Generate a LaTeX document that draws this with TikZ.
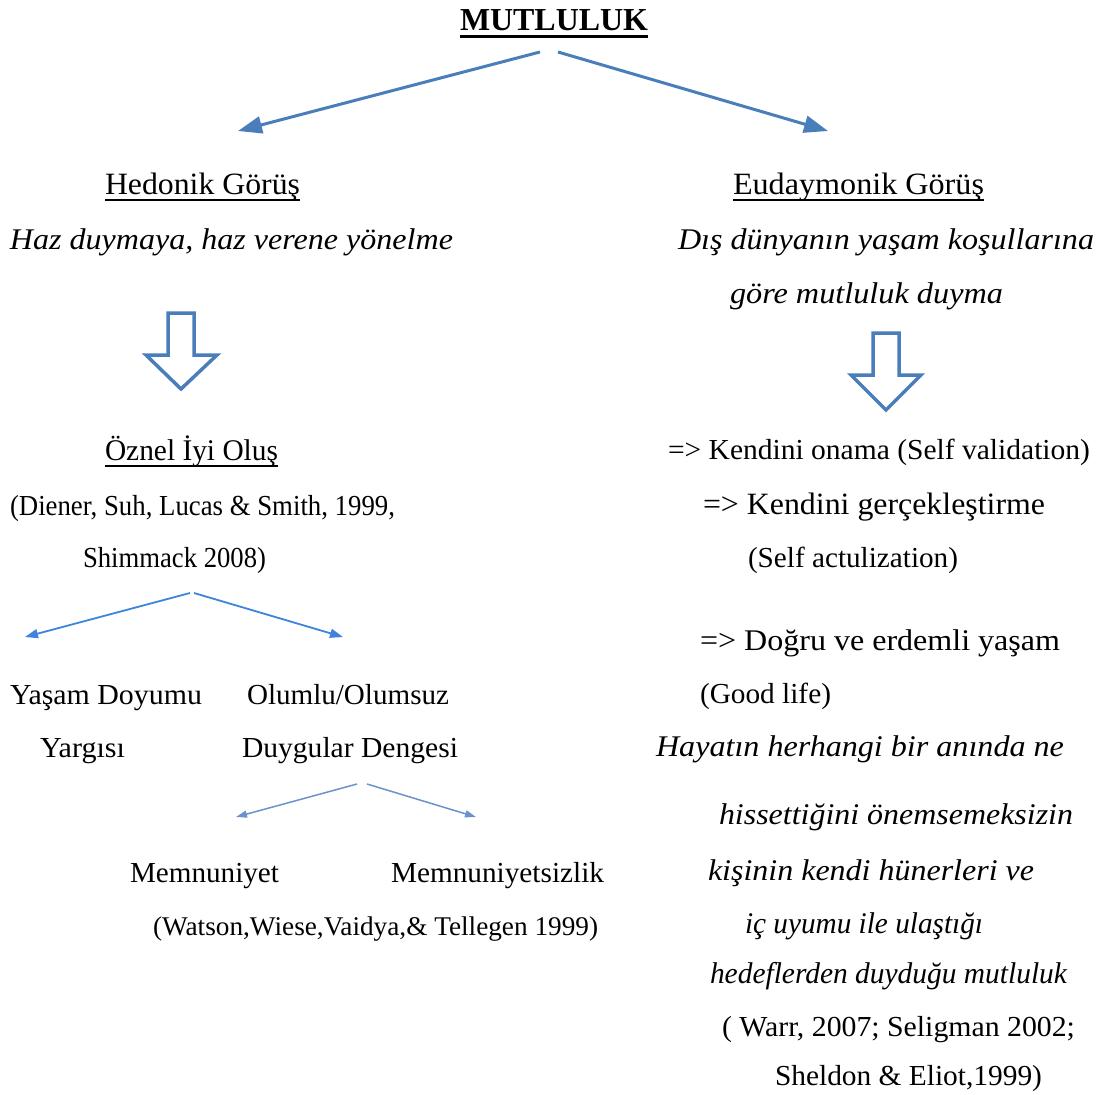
\documentclass[tikz,border=0pt]{standalone}
\usepackage{fontspec}
\setmainfont{Liberation Serif}
\usepackage{graphicx}
\usetikzlibrary{arrows.meta}
\definecolor{bigblue}{HTML}{4A7EBB}
\definecolor{midblue}{HTML}{3F84DC}
\definecolor{lowblue}{HTML}{6A92CC}
% set a line at a given size and stretch it to a given width
\newcommand\linefit[3]{\resizebox{#1pt}{\height}{\fontsize{#2}{#2}\selectfont #3}}
\tikzset{
  txt/.style={anchor=base west, inner sep=0pt, outer sep=0pt},
  bigarrow/.style={draw=bigblue, line width=3pt, -{Triangle[length=24pt,width=17pt]}},
  midarrow/.style={draw=midblue, line width=1.8pt, -{Triangle[length=13pt,width=9pt]}},
  lowarrow/.style={draw=lowblue, line width=1.5pt, -{Triangle[length=11pt,width=7pt]}},
  hollow/.style={draw=bigblue, line width=3.5pt, fill=white, line join=miter},
  uline/.style={line width=1.4pt},
}
\begin{document}
\begin{tikzpicture}[x=1pt,y=-1pt]
\useasboundingbox[fill=white] (0,0) rectangle (1101,1095);

% title
\node[txt] (title) at (460,30) {\linefit{188}{32}{\bfseries MUTLULUK}};
\draw[line width=3pt] ([yshift=-6pt]title.base west) -- ([yshift=-6pt]title.base east);

\coordinate (tL) at (540,52);
\coordinate (tR) at (558,52);
\coordinate (hL) at (238,131);
\coordinate (hR) at (828,131);
\draw[bigarrow] (tL) -- (hL);
\draw[bigarrow] (tR) -- (hR);

% hedonic branch
\node[txt] (hed) at (105,194) {\linefit{195}{31}{Hedonik Görüş}};
\draw[uline] ([yshift=-6pt]hed.base west) -- ([yshift=-6pt]hed.base east);
\node[txt] (hed2) at (10,249) {\linefit{443}{30}{\itshape Haz duymaya, haz verene yönelme}};

% eudaimonic branch
\node[txt] (eud) at (733,194) {\linefit{251}{31}{Eudaymonik Görüş}};
\draw[uline] ([yshift=-6pt]eud.base west) -- ([yshift=-6pt]eud.base east);
\node[txt] (eud2) at (678,249) {\linefit{416}{30}{\itshape Dış dünyanın yaşam koşullarına}};
\node[txt] (eud3) at (730,303) {\linefit{273}{30}{\itshape göre mutluluk duyma}};

% hollow down arrows
\draw[hollow] (168,313) -- (194,313) -- (194,355) -- (217,355) -- (181,389)
  -- (146,355) -- (168,355) -- cycle;
\draw[hollow] (873,333) -- (899,333) -- (899,375) -- (921,375) -- (886,410)
  -- (851,375) -- (873,375) -- cycle;

% subjective well-being
\node[txt] (swb) at (105,460) {\linefit{173}{30}{Öznel İyi Oluş}};
\draw[uline] ([yshift=-6pt]swb.base west) -- ([yshift=-6pt]swb.base east);
\node[txt] (ref1) at (10,515) {\linefit{385}{29}{(Diener, Suh, Lucas \& Smith, 1999,}};
\node[txt] (ref2) at (83,567) {\linefit{183}{29}{Shimmack 2008)}};

\coordinate (s1) at (190,593);
\coordinate (s2) at (194,593);
\coordinate (e1) at (25,637);
\coordinate (e2) at (343,637);
\draw[midarrow] (s1) -- (e1);
\draw[midarrow] (s2) -- (e2);

\node[txt] (yd1) at (10,704) {\linefit{192}{29}{Yaşam Doyumu}};
\node[txt] (yd2) at (40,757) {\linefit{85}{29}{Yargısı}};
\node[txt] (od1) at (247,704) {\linefit{202}{29}{Olumlu/Olumsuz}};
\node[txt] (od2) at (242,757) {\linefit{216}{29}{Duygular Dengesi}};

\coordinate (u1) at (357,784);
\coordinate (u2) at (367,784);
\coordinate (v1) at (236,817);
\coordinate (v2) at (476,817);
\draw[lowarrow] (u1) -- (v1);
\draw[lowarrow] (u2) -- (v2);

\node[txt] (mem) at (130,882) {\linefit{149}{29}{Memnuniyet}};
\node[txt] (memz) at (391,882) {\linefit{213}{29}{Memnuniyetsizlik}};
\node[txt] (ref3) at (153,935) {\linefit{445}{27}{(Watson,Wiese,Vaidya,\& Tellegen 1999)}};

% eudaimonic list
\node[txt] (k1) at (668,459) {\linefit{422}{29}{=> Kendini onama (Self validation)}};
\node[txt] (k2) at (703,514) {\linefit{342}{31}{=> Kendini gerçekleştirme}};
\node[txt] (k3) at (748,567) {\linefit{210}{29}{(Self actulization)}};
\node[txt] (k4) at (700,650) {\linefit{360}{30}{=> Doğru ve erdemli yaşam}};
\node[txt] (k5) at (700,703) {\linefit{131}{29}{(Good life)}};

\node[txt] (d1) at (656,756) {\linefit{408}{30}{\itshape Hayatın herhangi bir anında ne}};
\node[txt] (d2) at (719,824) {\linefit{354}{30}{\itshape hissettiğini önemsemeksizin}};
\node[txt] (d3) at (708,880) {\linefit{326}{30}{\itshape kişinin kendi hünerleri ve}};
\node[txt] (d4) at (745,933) {\linefit{238}{30}{\itshape iç uyumu ile ulaştığı}};
\node[txt] (d5) at (710,983) {\linefit{357}{30}{\itshape hedeflerden duyduğu mutluluk}};
\node[txt] (d6) at (722,1036) {\linefit{353}{29}{( Warr, 2007; Seligman 2002;}};
\node[txt] (d7) at (775,1085) {\linefit{267}{29}{Sheldon \& Eliot,1999)}};
\end{tikzpicture}
\end{document}
